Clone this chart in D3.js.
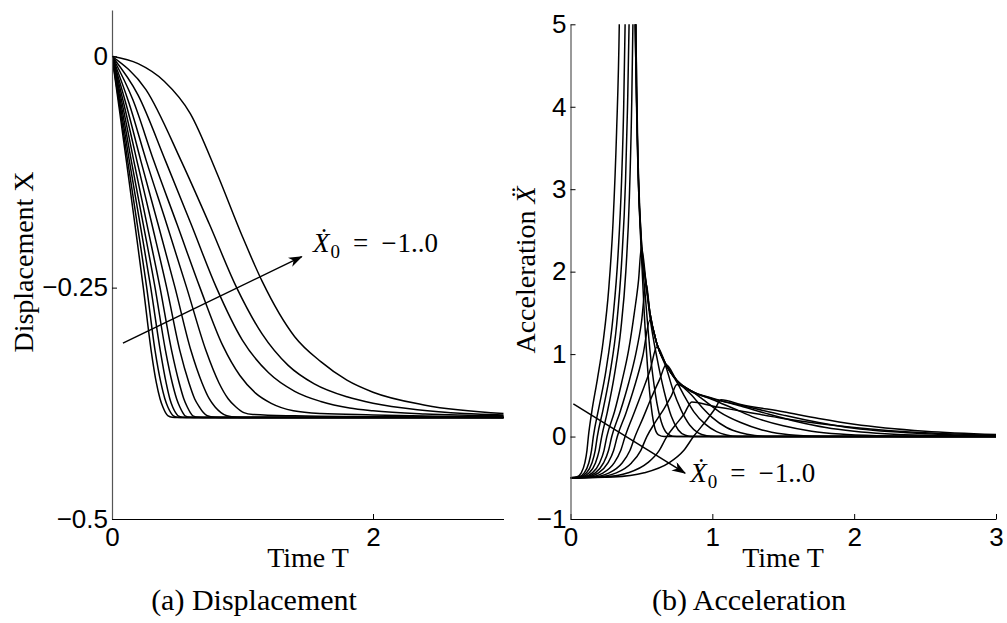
<!DOCTYPE html>
<html><head><meta charset="utf-8">
<script src="https://cdn.jsdelivr.net/npm/d3@7"></script>
<style>
html,body{margin:0;padding:0;background:#fff;}
svg{display:block;}
.tick text{font-family:"Liberation Sans",Arial,Helvetica,sans-serif;font-size:26px;fill:#000;}
.serif{font-family:"Liberation Serif","DejaVu Serif","Times New Roman",serif;fill:#000;}
</style></head><body>
<svg id="fig" width="1007" height="623"></svg>
<script>
// Initial velocities of the family, fastest first (one curve each, in both panels)
const initialVelocities = [-1.0, -0.909, -0.818, -0.727, -0.636, -0.545, -0.455, -0.364, -0.273, -0.182, -0.091, 0.0];

// Displacement X(T) samples, [T, X]
const disp01 = [[0,0],[0.055,-0.056],[0.11,-0.113],[0.175,-0.181],[0.24,-0.25],[0.30,-0.318],[0.34,-0.353],[0.368,-0.37],[0.39,-0.379],[0.41,-0.385],[0.43,-0.3885],[0.46,-0.39],[0.5,-0.3903],[3,-0.3903]];
const disp02 = [[0,0],[0.06,-0.0555],[0.12,-0.113],[0.193,-0.181],[0.266,-0.25],[0.33,-0.318],[0.375,-0.353],[0.405,-0.37],[0.428,-0.379],[0.45,-0.385],[0.47,-0.3885],[0.5,-0.39],[0.55,-0.3903],[3,-0.3903]];
const disp03 = [[0,0],[0.066,-0.0551],[0.133,-0.113],[0.215,-0.181],[0.297,-0.25],[0.37,-0.318],[0.415,-0.353],[0.443,-0.37],[0.465,-0.379],[0.487,-0.385],[0.506,-0.3885],[0.54,-0.39],[0.6,-0.3903],[3,-0.3903]];
const disp04 = [[0,0],[0.074,-0.0552],[0.148,-0.113],[0.239,-0.181],[0.33,-0.25],[0.41,-0.318],[0.462,-0.353],[0.495,-0.37],[0.52,-0.379],[0.542,-0.385],[0.56,-0.3885],[0.6,-0.39],[0.66,-0.3903],[3,-0.3903]];
const disp05 = [[0,0],[0.083,-0.0545],[0.167,-0.113],[0.267,-0.181],[0.368,-0.25],[0.457,-0.318],[0.515,-0.353],[0.55,-0.37],[0.577,-0.379],[0.6,-0.385],[0.62,-0.3885],[0.665,-0.39],[0.73,-0.3903],[3,-0.3903]];
const disp06 = [[0,0],[0.095,-0.054],[0.191,-0.113],[0.305,-0.181],[0.419,-0.25],[0.52,-0.318],[0.59,-0.353],[0.633,-0.37],[0.67,-0.379],[0.7,-0.385],[0.73,-0.3885],[0.79,-0.39],[0.87,-0.3903],[3,-0.3903]];
const disp07 = [[0,0],[0.11,-0.053],[0.221,-0.113],[0.352,-0.181],[0.483,-0.25],[0.605,-0.318],[0.69,-0.353],[0.745,-0.37],[0.79,-0.379],[0.835,-0.385],[0.88,-0.3885],[0.96,-0.39],[1.06,-0.3903],[3,-0.3903]];
const disp08 = [[0,0],[0.13,-0.0505],[0.263,-0.113],[0.418,-0.181],[0.572,-0.25],[0.72,-0.318],[0.82,-0.353],[0.89,-0.37],[0.95,-0.379],[1.01,-0.385],[1.08,-0.387],[1.4,-0.3885],[2.0,-0.3895],[3,-0.3903]];
const disp09 = [[0,0],[0.16,-0.047],[0.32,-0.113],[0.497,-0.181],[0.674,-0.25],[0.85,-0.313],[0.98,-0.345],[1.1,-0.364],[1.22,-0.375],[1.39,-0.383],[1.6,-0.386],[2.0,-0.3875],[2.5,-0.389],[3,-0.3898]];
const disp10 = [[0,0],[0.2,-0.042],[0.41,-0.113],[0.605,-0.181],[0.8,-0.25],[1.0,-0.307],[1.2,-0.342],[1.4,-0.362],[1.6,-0.373],[1.82,-0.38],[2.0,-0.383],[2.4,-0.3865],[3,-0.3885]];
const disp11 = [[0,0],[0.26,-0.036],[0.53,-0.113],[0.745,-0.181],[0.955,-0.25],[1.15,-0.3],[1.35,-0.334],[1.55,-0.354],[1.8,-0.368],[2.0,-0.375],[2.34,-0.382],[2.7,-0.386],[3,-0.3875]];
const disp12 = [[0,0],[0.2,-0.008],[0.4,-0.027],[0.6,-0.062],[0.8,-0.125],[1.0,-0.195],[1.15,-0.243],[1.4,-0.303],[1.6,-0.33],[1.8,-0.35],[2.0,-0.363],[2.4,-0.377],[3.0,-0.386]];

// Acceleration Xdd(T) samples, [T, A]
const acc01 = [[0,-0.5],[0.044,-0.49],[0.076,-0.44],[0.101,-0.32],[0.116,-0.17],[0.126,0],[0.15,0.3],[0.19,0.7],[0.23,1.15],[0.27,1.8],[0.3,2.6],[0.325,3.7],[0.344,5],[0.36,7.5],[0.39,14],[0.42,12],[0.44,6.6],[0.46,4.6],[0.475,3.3],[0.5,2.2],[0.52,1.5],[0.545,0.8],[0.57,0.35],[0.595,0.1],[0.62,0.02],[0.66,0],[3,0]];
const acc02 = [[0,-0.5],[0.056,-0.49],[0.097,-0.44],[0.129,-0.32],[0.148,-0.17],[0.161,0],[0.2,0.35],[0.25,0.8],[0.3,1.45],[0.335,2.2],[0.36,3.1],[0.375,4.0],[0.385,5],[0.4,7.5],[0.42,12],[0.44,8],[0.458,4.8],[0.475,3.3],[0.5,2.3],[0.53,1.65],[0.56,1.05],[0.6,0.5],[0.64,0.18],[0.68,0.04],[0.72,0.005],[0.78,0],[3,0]];
const acc03 = [[0,-0.5],[0.066,-0.49],[0.113,-0.44],[0.151,-0.32],[0.174,-0.17],[0.189,0],[0.23,0.33],[0.28,0.78],[0.325,1.35],[0.36,2.1],[0.388,3.1],[0.402,4.0],[0.413,5],[0.425,7],[0.44,10],[0.455,6.5],[0.465,4.3],[0.48,3.15],[0.5,2.35],[0.533,1.84],[0.56,1.45],[0.61,0.95],[0.66,0.55],[0.71,0.25],[0.76,0.08],[0.81,0.015],[0.86,0],[3,0]];
const acc04 = [[0,-0.5],[0.077,-0.49],[0.132,-0.44],[0.176,-0.32],[0.202,-0.17],[0.22,0],[0.26,0.3],[0.31,0.75],[0.355,1.3],[0.39,2.0],[0.415,2.9],[0.43,3.9],[0.44,5],[0.447,6.5],[0.452,6.8],[0.462,4.8],[0.475,3.4],[0.5,2.38],[0.533,1.86],[0.56,1.5],[0.61,1.12],[0.674,0.84],[0.72,0.58],[0.78,0.32],[0.84,0.14],[0.9,0.045],[0.96,0.01],[1.02,0],[3,0]];
const acc05 = [[0,-0.5],[0.09,-0.49],[0.154,-0.44],[0.205,-0.32],[0.236,-0.17],[0.256,0],[0.31,0.3],[0.36,0.65],[0.41,1.05],[0.45,1.5],[0.48,1.9],[0.5,2.3],[0.533,1.86],[0.56,1.5],[0.61,1.12],[0.674,0.87],[0.75,0.66],[0.8,0.5],[0.87,0.3],[0.95,0.15],[1.03,0.06],[1.1,0.02],[1.18,0],[3,0]];
const acc06 = [[0,-0.5],[0.102,-0.49],[0.175,-0.44],[0.233,-0.32],[0.268,-0.17],[0.291,0],[0.35,0.3],[0.41,0.65],[0.46,1.0],[0.5,1.38],[0.533,1.86],[0.56,1.5],[0.61,1.12],[0.674,0.87],[0.75,0.68],[0.855,0.5],[0.93,0.35],[1.0,0.23],[1.1,0.11],[1.2,0.045],[1.3,0.012],[1.4,0],[3,0]];
const acc07 = [[0,-0.5],[0.116,-0.49],[0.198,-0.44],[0.264,-0.32],[0.304,-0.17],[0.33,0],[0.39,0.28],[0.45,0.6],[0.51,0.98],[0.56,1.41],[0.61,1.12],[0.674,0.87],[0.75,0.68],[0.855,0.55],[0.95,0.43],[1.05,0.3],[1.2,0.17],[1.35,0.08],[1.5,0.03],[1.7,0.005],[1.9,0],[3,0]];
const acc08 = [[0,-0.5],[0.135,-0.49],[0.231,-0.44],[0.308,-0.32],[0.354,-0.17],[0.385,0],[0.44,0.25],[0.5,0.52],[0.56,0.8],[0.61,1.09],[0.674,0.87],[0.75,0.68],[0.855,0.55],[1.0,0.45],[1.15,0.34],[1.3,0.23],[1.5,0.13],[1.7,0.065],[1.9,0.03],[2.2,0.008],[2.5,0],[3,0]];
const acc09 = [[0,-0.5],[0.159,-0.49],[0.273,-0.44],[0.364,-0.32],[0.419,-0.17],[0.455,0],[0.51,0.22],[0.57,0.47],[0.63,0.7],[0.674,0.87],[0.75,0.68],[0.855,0.55],[1.0,0.465],[1.2,0.37],[1.4,0.27],[1.6,0.18],[1.8,0.11],[2.0,0.065],[2.5,0.015],[3,0.003]];
const acc10 = [[0,-0.5],[0.188,-0.49],[0.323,-0.44],[0.43,-0.32],[0.495,-0.17],[0.538,0],[0.6,0.18],[0.66,0.34],[0.71,0.49],[0.75,0.63],[0.855,0.54],[1.0,0.46],[1.2,0.38],[1.5,0.26],[1.75,0.17],[2.0,0.1],[2.5,0.035],[3,0.01]];
const acc11 = [[0,-0.5],[0.238,-0.49],[0.407,-0.44],[0.543,-0.32],[0.625,-0.17],[0.679,0],[0.74,0.14],[0.8,0.27],[0.855,0.42],[1.0,0.37],[1.2,0.31],[1.5,0.22],[2.0,0.11],[2.5,0.045],[3,0.015]];
const acc12 = [[0,-0.5],[0.303,-0.49],[0.52,-0.44],[0.694,-0.32],[0.798,-0.17],[0.867,0],[0.96,0.2],[1.02,0.34],[1.062,0.445],[1.2,0.39],[1.5,0.3],[1.75,0.22],[2.0,0.15],[2.5,0.065],[3,0.025]];

// Axis ticks
const dispXTicks = [0, 2];
const dispYTicks = [0, -0.25, -0.5];
const accXTicks = [0, 1, 2, 3];
const accYTicks = [-1, 0, 1, 2, 3, 4, 5];

// Annotation arrows, in data units: [tail, head]; note anchors in data units
const dispArrow = [[0.084, -0.310], [1.454, -0.2165]];
const accArrow = [[0.02, 0.396], [0.808, -0.444]];
const dispNoteAt = [1.54, -0.212];
const accNoteAt = [0.844, -0.55];

const dispSeries = [disp01, disp02, disp03, disp04, disp05, disp06, disp07, disp08, disp09, disp10, disp11, disp12];
const accSeries = [acc01, acc02, acc03, acc04, acc05, acc06, acc07, acc08, acc09, acc10, acc11, acc12];

const svg = d3.select("#fig");
const defs = svg.append("defs");
defs.append("marker").attr("id", "arrowhead")
  .attr("viewBox", "0 0 14 10").attr("refX", 13).attr("refY", 5)
  .attr("markerWidth", 14).attr("markerHeight", 10)
  .attr("markerUnits", "userSpaceOnUse").attr("orient", "auto")
  .append("path").attr("d", "M0,0 L14,5 L0,10 L4,5 Z").attr("fill", "#000");

function panel(opts) {
  const { id, x, y, series, xTicks, yTicks, yFmt, arrow, noteAt } = opts;
  const g = svg.append("g");
  const [x0, x1] = x.range();
  const [yb, yt] = y.range();
  defs.append("clipPath").attr("id", id)
    .append("rect").attr("x", x0).attr("y", yt).attr("width", x1 - x0 + 2).attr("height", yb - yt);

  const line = d3.line().x(d => x(d[0])).y(d => y(d[1])).curve(d3.curveMonotoneX);
  g.append("g").attr("clip-path", `url(#${id})`)
    .selectAll("path").data(series).join("path")
    .attr("d", line).attr("fill", "none").attr("stroke", "#000").attr("stroke-width", 1.5);

  const xa = g.append("g").attr("transform", `translate(0,${yb})`)
    .call(d3.axisBottom(x).tickValues(xTicks).tickFormat(d3.format("d"))
      .tickSizeInner(-5).tickSizeOuter(0).tickPadding(9));
  xa.select(".domain").attr("stroke", "#000");
  const ya = g.append("g").attr("transform", `translate(${x0},0)`)
    .call(d3.axisLeft(y).tickValues(yTicks).tickFormat(yFmt)
      .tickSizeInner(-5).tickSizeOuter(0).tickPadding(4));
  ya.select(".domain").attr("stroke", "#555").attr("stroke-width", 1.2);
  g.selectAll(".tick line").attr("stroke", "#000");

  g.append("line")
    .attr("x1", x(arrow[0][0])).attr("y1", y(arrow[0][1]))
    .attr("x2", x(arrow[1][0])).attr("y2", y(arrow[1][1]))
    .attr("stroke", "#000").attr("stroke-width", 1.5)
    .attr("marker-end", "url(#arrowhead)");

  // Initial-velocity range note: X-dot with subscript 0, "= -1..0"
  const t = g.append("text").attr("class", "serif")
    .attr("x", x(noteAt[0])).attr("y", y(noteAt[1])).style("font-size", "27px");
  t.append("tspan").style("font-style", "italic").text("\u1E8A");
  t.append("tspan").attr("dx", 1).attr("dy", 6).style("font-size", "19px").text("0");
  t.append("tspan").attr("dx", 13).attr("dy", -6).text("=");
  t.append("tspan").attr("dx", 13).text("\u2212");
  t.append("tspan").attr("dx", 1).text("1..0");
  return g;
}

const xD = d3.scaleLinear().domain([0, 3]).range([112, 503.5]);
const yD = d3.scaleLinear().domain([-0.5, 0.05]).range([519, 10]);
const xA = d3.scaleLinear().domain([0, 3]).range([570.5, 996]);
const yA = d3.scaleLinear().domain([-1, 5]).range([519, 24.3]);

const minusFmt = d => String(d).replace("-", "\u2212");
panel({ id: "clipDisp", x: xD, y: yD, series: dispSeries, xTicks: dispXTicks, yTicks: dispYTicks,
  yFmt: minusFmt, arrow: dispArrow, noteAt: dispNoteAt });
panel({ id: "clipAcc", x: xA, y: yA, series: accSeries, xTicks: accXTicks, yTicks: accYTicks,
  yFmt: minusFmt, arrow: accArrow, noteAt: accNoteAt });

// Axis titles
svg.append("text").attr("class", "serif").attr("transform", "translate(33,262) rotate(-90)")
  .attr("text-anchor", "middle").style("font-size", "28px").text("Displacement X");

const accTitle = svg.append("text").attr("class", "serif")
  .attr("transform", "translate(535,270) rotate(-90)").attr("text-anchor", "middle")
  .style("font-size", "28px");
accTitle.append("tspan").text("Acceleration ");
accTitle.append("tspan").style("font-style", "italic").text("\u1E8C");

svg.append("text").attr("class", "serif").attr("x", 308).attr("y", 567).attr("text-anchor", "middle")
  .style("font-size", "28px").text("Time T");
svg.append("text").attr("class", "serif").attr("x", 783).attr("y", 567).attr("text-anchor", "middle")
  .style("font-size", "28px").text("Time T");

// Sub-figure captions
svg.append("text").attr("class", "serif").attr("x", 254).attr("y", 610).attr("text-anchor", "middle")
  .style("font-size", "30px").text("(a) Displacement");
svg.append("text").attr("class", "serif").attr("x", 749).attr("y", 610).attr("text-anchor", "middle")
  .style("font-size", "30px").text("(b) Acceleration");
</script></body></html>
